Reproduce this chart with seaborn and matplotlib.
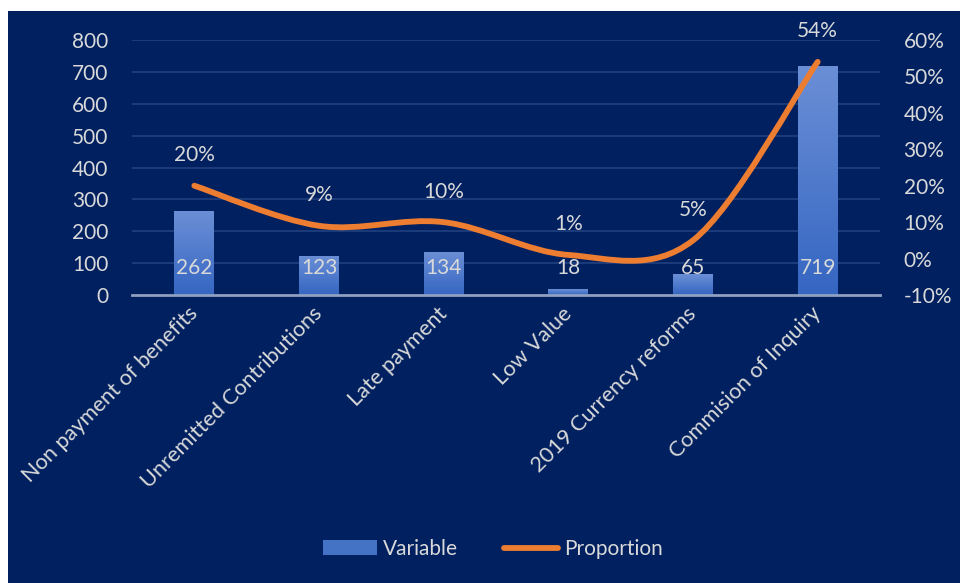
import matplotlib
matplotlib.use("Agg")
import matplotlib.pyplot as plt
import seaborn as sns
import numpy as np
import pandas as pd
from matplotlib.patches import Rectangle, Patch, PathPatch
from matplotlib.lines import Line2D
from matplotlib.path import Path
from matplotlib.colors import LinearSegmentedColormap

categories = ["Non payment of benefits", "Unremitted Contributions", "Late payment",
              "Low Value", "2019 Currency reforms", "Commision of Inquiry"]
variable = [262, 123, 134, 18, 65, 719]
proportion = [0.20, 0.09, 0.10, 0.01, 0.05, 0.54]
left_ticks = [0, 100, 200, 300, 400, 500, 600, 700, 800]
right_ticks = [-0.10, 0.0, 0.10, 0.20, 0.30, 0.40, 0.50, 0.60]

NAVY = "#002060"
TXT = "#D9D9D9"
ORANGE = "#ED7D31"
BLUE = "#4472C4"
FONT = "Lato"
FS = 15

sns.set_theme(style="white")
plt.rcParams["font.family"] = [FONT, "DejaVu Sans"]

fig = plt.figure(figsize=(9.6, 5.83), dpi=100, facecolor="white")
fig.patches.append(Rectangle((8 / 960, 0), 952 / 960, 572 / 583, transform=fig.transFigure,
                             facecolor=NAVY, edgecolor="none", zorder=-10))

W, H = 960, 583
ax = fig.add_axes([132 / W, 1 - 295 / H, (880 - 132) / W, (295 - 40) / H])
ax.set_facecolor("none")

df = pd.DataFrame({"cat": categories, "val": variable})
sns.barplot(data=df, x="cat", y="val", color=BLUE, width=0.32, ax=ax, zorder=3,
            saturation=1, linewidth=0, edgecolor="none")

ax.set_xlim(-0.5, len(categories) - 0.5)
ax.set_ylim(0, 800)
ax.set_yticks(left_ticks)
ax.set_yticklabels([str(t) for t in left_ticks])
ax.set_xlabel("")
ax.set_ylabel("")
ax.grid(False)
for y in left_ticks[1:]:
    ax.axhline(y, color="#21407F", lw=1.2, zorder=1)
for s in ["left", "right", "top"]:
    ax.spines[s].set_visible(False)
ax.spines["bottom"].set_color("#8FA1C0")
ax.spines["bottom"].set_linewidth(2)
ax.spines["bottom"].set_zorder(5)
ax.tick_params(axis="y", length=0, pad=17, labelsize=FS, labelcolor=TXT)
ax.tick_params(axis="x", length=0, pad=11, labelsize=15.7, labelcolor=TXT)
ax.set_xticks(range(len(categories)))
ax.set_xticklabels(categories, rotation=45, ha="right", va="center", rotation_mode="anchor")

# gradient fill for bars
cmap = LinearSegmentedColormap.from_list("g", ["#3566C2", "#6B8FD6"])
grad = np.linspace(0, 1, 256).reshape(-1, 1)
for p in list(ax.patches):
    x0, y0 = p.get_x(), p.get_y()
    w, h = p.get_width(), p.get_height()
    im = ax.imshow(grad, extent=[x0, x0 + w, y0, y0 + h], origin="lower", aspect="auto",
                   cmap=cmap, zorder=3.5)
    im.set_clip_path(p)
ax.set_xlim(-0.5, len(categories) - 0.5)
ax.set_ylim(0, 800)

for i, v in enumerate(variable):
    ax.text(i, 85, str(v), ha="center", va="center", color=TXT, fontsize=FS, zorder=6)

# secondary axis
ax2 = ax.twinx()
ax2.set_ylim(-0.10, 0.60)
ax2.set_yticks(right_ticks)
ax2.set_yticklabels([f"{int(round(t * 100))}%" for t in right_ticks])
ax2.tick_params(axis="y", length=0, pad=17, labelsize=FS, labelcolor=TXT)
for s in ax2.spines.values():
    s.set_visible(False)
ax2.grid(False)
ax2.set_facecolor("none")

# smoothed line (Catmull-Rom style, like Excel smoothing)
xs = np.arange(len(proportion), dtype=float)
ys = np.array(proportion, dtype=float)
n = len(xs)
verts = [(xs[0], ys[0])]
codes = [Path.MOVETO]
for i in range(n - 1):
    pm = (xs[i - 1], ys[i - 1]) if i > 0 else (xs[i], ys[i])
    p0 = (xs[i], ys[i])
    p1 = (xs[i + 1], ys[i + 1])
    pp = (xs[i + 2], ys[i + 2]) if i + 2 < n else (xs[i + 1], ys[i + 1])
    c1 = (p0[0] + (p1[0] - pm[0]) / 6, p0[1] + (p1[1] - pm[1]) / 6)
    c2 = (p1[0] - (pp[0] - p0[0]) / 6, p1[1] - (pp[1] - p0[1]) / 6)
    verts += [c1, c2, p1]
    codes += [Path.CURVE4] * 3
path = Path(verts, codes)
ax2.add_patch(PathPatch(path, facecolor="none", edgecolor=ORANGE, lw=4.2,
                        capstyle="round", joinstyle="round", zorder=7))

for i, v in enumerate(proportion):
    ax2.annotate(f"{int(round(v * 100))}%", (i, v), xytext=(0, 22), textcoords="offset points",
                 ha="center", va="center", color=TXT, fontsize=FS, zorder=8)

handles = [Patch(facecolor=BLUE, edgecolor="none"),
           Line2D([0], [0], color=ORANGE, lw=4.2, solid_capstyle="round")]
leg = fig.legend(handles, ["Variable", "Proportion"], loc="center",
                 bbox_to_anchor=(493 / W, 1 - 549 / H), ncol=2, frameon=False,
                 fontsize=FS, handlelength=2.6, handleheight=0.7, columnspacing=2.2,
                 handletextpad=0.3)
for t in leg.get_texts():
    t.set_color(TXT)

fig.savefig("out.png", dpi=100, facecolor=fig.get_facecolor())
